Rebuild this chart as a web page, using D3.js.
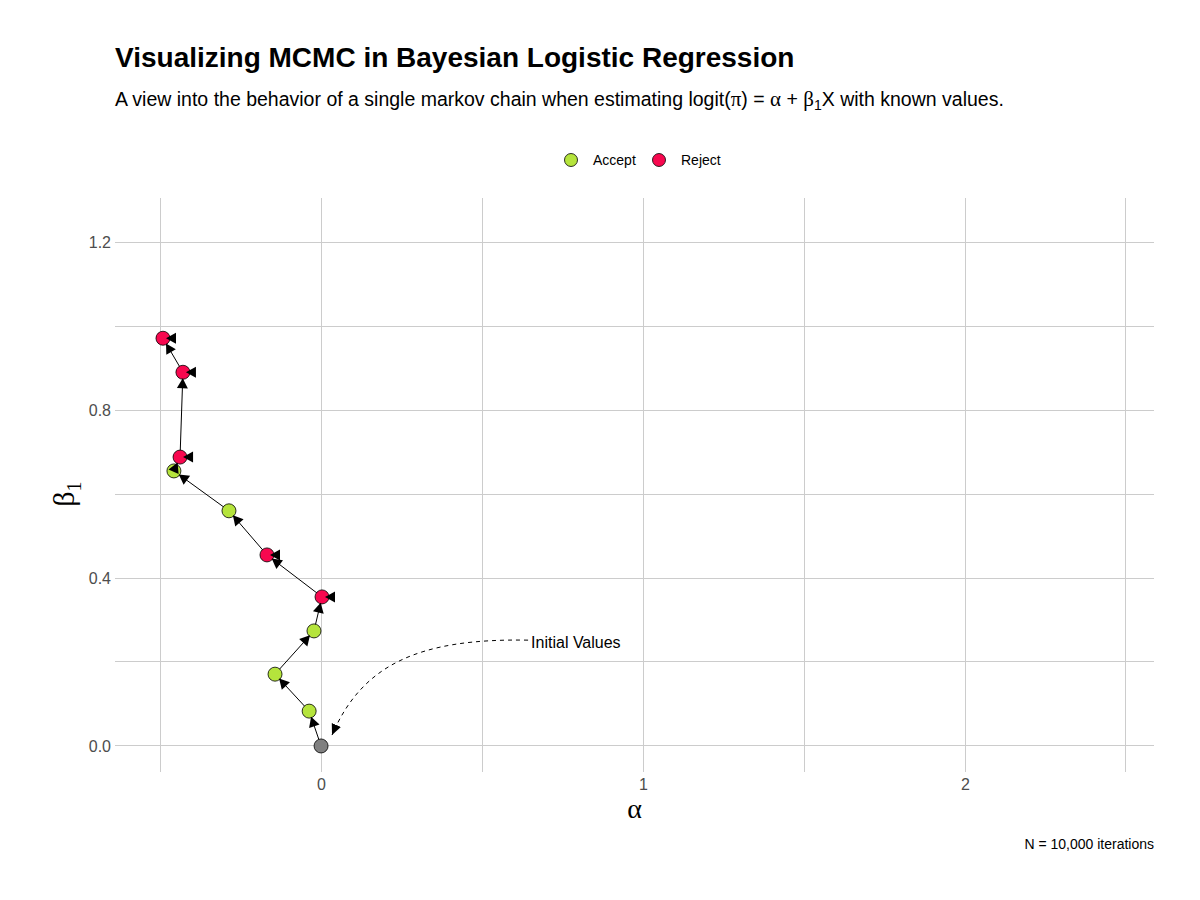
<!DOCTYPE html>
<html>
<head>
<meta charset="utf-8">
<script src="https://cdn.jsdelivr.net/npm/d3@7"></script>
<style>
  body { margin: 0; background: #fff; }
  text { font-family: "Liberation Sans", Arial, sans-serif; }
  .greek { font-family: "Liberation Serif", "DejaVu Serif", serif; }
</style>
</head>
<body>
<svg id="chart" width="1200" height="900"></svg>
<script>
// Chain values, in iteration order
var alphaValues = [0, -0.037, -0.143, -0.022, 0.003, -0.168, -0.286, -0.457, -0.438, -0.429, -0.491];
var betaValues  = [0, 0.083, 0.171, 0.274, 0.355, 0.455, 0.56, 0.655, 0.688, 0.89, 0.971];
var statusValues = ["Initial", "Accept", "Accept", "Accept", "Reject", "Reject",
                    "Accept", "Accept", "Reject", "Reject", "Reject"];

var xTicks = [0, 1, 2];
var xMinor = [-0.5, 0.5, 1.5, 2.5];
var yTicks = [0.0, 0.4, 0.8, 1.2];
var yMinor = [0.2, 0.6, 1.0];

// annotation: text anchor and curve target (data units)
var noteText = "Initial Values";
var noteStart = [0.643, 0.252];
var noteEnd = [0.034, 0.026];

var colors = { Initial: "#808080", Accept: "#b5e43c", Reject: "#f7084f" };

var svg = d3.select("#chart");

// Plot panel
var panel = { left: 115, right: 1154, top: 198, bottom: 772 };

var x = d3.scaleLinear().domain([-0.64, 2.587]).range([panel.left, panel.right]);
var y = d3.scaleLinear().domain([-0.062, 1.305]).range([panel.bottom, panel.top]);

// Gridlines
var grid = svg.append("g").attr("shape-rendering", "crispEdges");
grid.selectAll(".vx").data(xTicks.concat(xMinor)).enter().append("line")
  .attr("x1", d => x(d)).attr("x2", d => x(d))
  .attr("y1", panel.top).attr("y2", panel.bottom)
  .attr("stroke", "#cccccc").attr("stroke-width", 1);
grid.selectAll(".hy").data(yTicks.concat(yMinor)).enter().append("line")
  .attr("y1", d => y(d)).attr("y2", d => y(d))
  .attr("x1", panel.left).attr("x2", panel.right)
  .attr("stroke", "#cccccc").attr("stroke-width", 1);

// Axes using d3 axis generators, domain lines removed
var xAxis = svg.append("g")
  .attr("transform", "translate(0," + panel.bottom + ")")
  .call(d3.axisBottom(x).tickValues(xTicks).tickFormat(d3.format("d")).tickSize(0).tickPadding(7));
var yAxis = svg.append("g")
  .attr("transform", "translate(" + panel.left + ",0)")
  .call(d3.axisLeft(y).tickValues(yTicks).tickFormat(d3.format(".1f")).tickSize(0).tickPadding(4));
[xAxis, yAxis].forEach(function(a) {
  a.select(".domain").remove();
  a.selectAll("text")
    .style("font-family", "'Liberation Sans', Arial, sans-serif")
    .style("font-size", "16px").attr("fill", "#4d4d4d");
});

// Arrowhead marker for the annotation curve
var defs = svg.append("defs");
defs.append("marker")
  .attr("id", "arrow").attr("viewBox", "0 0 10 10")
  .attr("refX", 10).attr("refY", 5)
  .attr("markerWidth", 11).attr("markerHeight", 11)
  .attr("markerUnits", "userSpaceOnUse")
  .attr("orient", "auto")
  .append("path").attr("d", "M0,0.5 L10,5 L0,9.5 Z").attr("fill", "#000");

var pts = alphaValues.map((a, i) => ({ px: x(a), py: y(betaValues[i]), status: statusValues[i] }));

// Chain path segments, shortened so the head sits on the edge of the next point
var r = 7;
var segs = [];
for (var i = 1; i < pts.length; i++) {
  var p0 = pts[i - 1], p1 = pts[i];
  var dx = p1.px - p0.px, dy = p1.py - p0.py;
  var len = Math.sqrt(dx * dx + dy * dy);
  segs.push({ x1: p0.px, y1: p0.py, x2: p1.px - dx / len * (r - 1), y2: p1.py - dy / len * (r - 1) });
}

// Curved annotation
var s = [x(noteStart[0]), y(noteStart[1])];
var e = [x(noteEnd[0]), y(noteEnd[1])];
var curve = d3.path();
curve.moveTo(s[0], s[1]);
curve.bezierCurveTo(s[0] - 110, s[1] - 2, e[0] + 30, e[1] - 70, e[0], e[1]);
svg.append("path")
  .attr("d", curve.toString())
  .attr("fill", "none").attr("stroke", "#000").attr("stroke-width", 1)
  .attr("stroke-dasharray", "4,4")
  .attr("marker-end", "url(#arrow)");
svg.append("text")
  .attr("x", s[0] + 3).attr("y", s[1] + 8)
  .attr("font-size", "16px").attr("fill", "#000")
  .text(noteText);

svg.append("g").selectAll("line").data(segs).enter().append("line")
  .attr("x1", d => d.x1).attr("y1", d => d.y1)
  .attr("x2", d => d.x2).attr("y2", d => d.y2)
  .attr("stroke", "#000").attr("stroke-width", 1);

// Points
svg.append("g").selectAll("circle").data(pts).enter().append("circle")
  .attr("cx", d => d.px).attr("cy", d => d.py).attr("r", r)
  .attr("fill", d => colors[d.status])
  .attr("stroke", "#000").attr("stroke-width", 0.8);

// Arrowheads drawn on top
function head(x2, y2, ang) {
  var L = 10, W = 5.5;
  var bx = x2 - L * Math.cos(ang), by = y2 - L * Math.sin(ang);
  var nx = -Math.sin(ang) * W, ny = Math.cos(ang) * W;
  return "M" + x2 + "," + y2 + "L" + (bx + nx) + "," + (by + ny) + "L" + (bx - nx) + "," + (by - ny) + "Z";
}
var heads = svg.append("g");
segs.forEach(function(d) {
  var ang = Math.atan2(d.y2 - d.y1, d.x2 - d.x1);
  heads.append("path").attr("d", head(d.x2, d.y2, ang)).attr("fill", "#000");
});
// rejected proposals: head pointing back toward the chain
pts.filter(d => d.status === "Reject").forEach(function(d) {
  heads.append("path").attr("d", head(d.px + 3, d.py, Math.PI)).attr("fill", "#000");
});

// Axis titles
svg.append("text").attr("class", "greek")
  .attr("x", (panel.left + panel.right) / 2).attr("y", 818)
  .attr("text-anchor", "middle").attr("font-size", "28px").text("α");
var yt = svg.append("text").attr("class", "greek")
  .attr("transform", "translate(74," + y(0.6) + ") rotate(-90)")
  .attr("text-anchor", "middle").attr("font-size", "30px");
yt.append("tspan").text("β");
yt.append("tspan").attr("font-size", "20px").attr("dy", 7).text("1");

// Title and subtitle
svg.append("text").attr("x", 115).attr("y", 67)
  .attr("font-size", "28px").attr("font-weight", "bold").attr("fill", "#000")
  .text("Visualizing MCMC in Bayesian Logistic Regression");
var sub = svg.append("text").attr("x", 115).attr("y", 106)
  .attr("font-size", "19.5px").attr("fill", "#000");
sub.append("tspan").text("A view into the behavior of a single markov chain when estimating logit(");
sub.append("tspan").attr("class", "greek").attr("font-size", "21px").text("π");
sub.append("tspan").text(") = ");
sub.append("tspan").attr("class", "greek").attr("font-size", "21px").text("α");
sub.append("tspan").text(" + ");
sub.append("tspan").attr("class", "greek").attr("font-size", "21px").text("β");
sub.append("tspan").attr("font-size", "14px").attr("dy", 4).text("1");
sub.append("tspan").attr("dy", -4).text("X with known values.");

// Legend
var legendItems = ["Accept", "Reject"];
var legendX = [571, 659];
var lg = svg.append("g");
legendItems.forEach(function(k, i) {
  lg.append("circle").attr("cx", legendX[i]).attr("cy", 160).attr("r", 6.5)
    .attr("fill", colors[k]).attr("stroke", "#000").attr("stroke-width", 0.8);
  lg.append("text").attr("x", legendX[i] + 22).attr("y", 165)
    .attr("font-size", "14px").attr("fill", "#000").text(k);
});

// Caption
svg.append("text").attr("x", panel.right).attr("y", 849)
  .attr("text-anchor", "end").attr("font-size", "14px").attr("fill", "#000")
  .text("N = 10,000 iterations");
</script>
</body>
</html>
